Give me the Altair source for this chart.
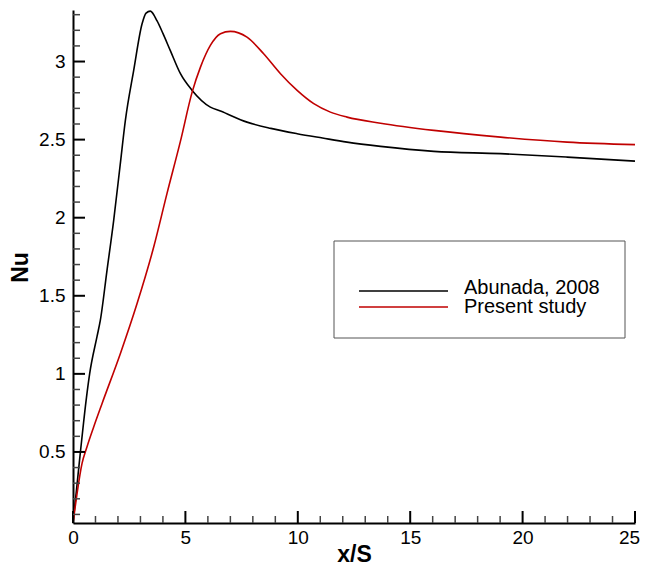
import altair as alt
import pandas as pd

# ---- data ----
abunada_x = [0, 0.15, 0.33, 0.6, 0.74, 1.07, 1.215, 1.51, 1.81, 2.1, 2.33, 2.70, 3.07, 3.25, 3.44,
             3.74, 4.0, 4.33, 4.78, 5.30, 6.11, 6.56, 7.74, 8.8, 9.97, 11.1, 12.19, 13.68, 16.05,
             19.02, 21.98, 25]
abunada_y = [0.045, 0.25, 0.5, 0.85, 1.0, 1.24, 1.342, 1.66, 1.983, 2.34, 2.623, 2.943, 3.24, 3.31,
             3.323, 3.26, 3.18, 3.07, 2.922, 2.815, 2.708, 2.683, 2.612, 2.572, 2.538, 2.51, 2.484,
             2.457, 2.425, 2.41, 2.388, 2.362]
present_x = [0, 0.08, 0.18, 0.4, 0.62, 0.92, 1.29, 2.105, 2.85, 3.59, 4.18, 4.78, 5.30, 5.67, 6.11,
             6.56, 7.0, 7.74, 8.48, 9.23, 9.97, 10.71, 11.45, 12.19, 13.68, 16.05, 19.02, 21.98, 25]
present_y = [0.045, 0.13, 0.233, 0.425, 0.532, 0.66, 0.809, 1.129, 1.45, 1.812, 2.154, 2.49, 2.804,
             2.964, 3.103, 3.178, 3.193, 3.156, 3.05, 2.922, 2.815, 2.73, 2.676, 2.644, 2.605, 2.559,
             2.516, 2.484, 2.468]
series_names = ["Abunada, 2008", "Present study"]
series_colors = ["#000000", "#c00000"]

x_major = [0, 5, 10, 15, 20, 25]
x_minor = [1, 2, 3, 4, 6, 7, 8, 9, 11, 12, 13, 14, 16, 17, 18, 19, 21, 22, 23, 24]
y_major = [0.5, 1.0, 1.5, 2.0, 2.5, 3.0]
y_minor = [0.1, 0.2, 0.3, 0.4, 0.6, 0.7, 0.8, 0.9, 1.1, 1.2, 1.3, 1.4, 1.6, 1.7, 1.8, 1.9,
           2.1, 2.2, 2.3, 2.4, 2.6, 2.7, 2.8, 2.9, 3.1, 3.2, 3.3]

W, H = 562, 513
FONT = "Liberation Sans"

df = pd.concat([
    pd.DataFrame({"x": abunada_x, "y": abunada_y, "series": series_names[0]}),
    pd.DataFrame({"x": present_x, "y": present_y, "series": series_names[1]}),
])

xscale = alt.Scale(domain=[0, 25], nice=False, zero=False)
yscale = alt.Scale(domain=[0.045, 3.33], nice=False, zero=False)
cscale = alt.Scale(domain=series_names, range=series_colors)

xaxis = alt.Axis(values=x_major, format="d", title="x/S", ticks=False, tickSize=0, grid=False,
                 domainColor="black", domainWidth=2, labelFontSize=19, labelColor="black",
                 labelFont=FONT, labelPadding=5, labelFlush=False, labelOverlap=False,
                 labelOffset={"condition": {"test": "datum.value === 25", "value": -6}, "value": 0},
                 titleFont=FONT, titleFontSize=23, titleFontWeight="bold", titleColor="black",
                 titleX=W / 2, titleY=38, titleAlign="center", titleBaseline="alphabetic")
yaxis = alt.Axis(values=y_major, format="~g", title="Nu", ticks=False, tickSize=0, grid=False,
                 domainColor="black", domainWidth=2, labelFontSize=19, labelColor="black",
                 labelFont=FONT, labelPadding=8, labelFlush=False, labelOverlap=False,
                 titleFont=FONT, titleFontSize=23, titleFontWeight="bold", titleColor="black",
                 titleX=-53, titleY=257, titleAlign="center", titleBaseline="middle",
                 titleAngle=270)

lines = alt.Chart(df).mark_line(strokeWidth=1.6, interpolate="monotone").encode(
    x=alt.X("x:Q", scale=xscale, axis=xaxis),
    y=alt.Y("y:Q", scale=yscale, axis=yaxis),
    color=alt.Color("series:N", scale=cscale, legend=None),
)

def xticks(vals, length, width, color):
    return alt.Chart(pd.DataFrame({"x": vals})).mark_tick(
        orient="vertical", size=length, thickness=width, color=color, opacity=1).encode(
        x=alt.X("x:Q", scale=xscale, axis=xaxis),
        y=alt.value(H - length / 2),
    )

def yticks(vals, length, width, color):
    return alt.Chart(pd.DataFrame({"y": vals})).mark_tick(
        orient="horizontal", size=length, thickness=width, color=color, opacity=1).encode(
        y=alt.Y("y:Q", scale=yscale, axis=None),
        x=alt.value(length / 2),
    )

legend_box = alt.Chart(pd.DataFrame({"a": [0]})).mark_rect(
    fill="white", stroke="#555555", strokeWidth=1).encode(
    x=alt.value(261), x2=alt.value(552), y=alt.value(231), y2=alt.value(328))

leg_df = pd.DataFrame({"series": series_names})
legend_lines = alt.Chart(leg_df).mark_rule(strokeWidth=1.6).encode(
    x=alt.value(286), x2=alt.value(375),
    y=alt.Y("series:N", scale=alt.Scale(type="point", domain=series_names, range=[281, 297],
                                        padding=0), axis=None),
    color=alt.Color("series:N", scale=cscale, legend=None),
)
legend_text = alt.Chart(leg_df).mark_text(
    align="left", baseline="alphabetic", fontSize=20, font=FONT, color="black").encode(
    x=alt.value(391),
    y=alt.Y("series:N", scale=alt.Scale(type="point", domain=series_names, range=[284, 302.5],
                                        padding=0), axis=None),
    text="series:N",
)

chart = alt.layer(
    lines,
    xticks(x_minor, 7, 1.5, "#444444"),
    xticks(x_major, 12, 2, "black"),
    yticks(y_minor, 7, 1.5, "#444444"),
    yticks(y_major, 12, 2, "black"),
    legend_box, legend_lines, legend_text,
).resolve_scale(y="independent").properties(
    width=W, height=H,
    autosize=alt.AutoSizeParams(type="none"),
    padding={"left": 65, "top": 2, "right": 5, "bottom": 39},
    background="white",
).configure_view(stroke=None)

chart.save("out.html", embed_options={"renderer": "svg", "actions": False})
